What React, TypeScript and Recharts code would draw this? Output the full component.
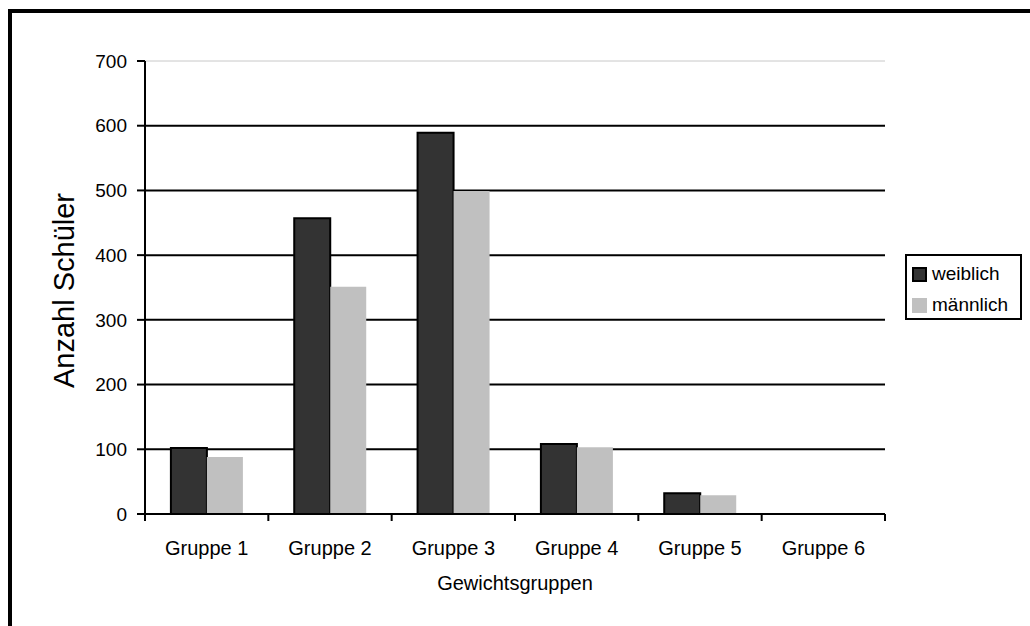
import React from "react";
import { BarChart, Bar, XAxis, YAxis, CartesianGrid, Legend } from "recharts";

const categories = ["Gruppe 1", "Gruppe 2", "Gruppe 3", "Gruppe 4", "Gruppe 5", "Gruppe 6"];
const weiblich = [102, 457, 589, 108, 32, 0];
const maennlich = [88, 351, 499, 103, 29, 1];
const yTicks = [0, 100, 200, 300, 400, 500, 600, 700];

const data = categories.map((c, i) => ({ name: c, weiblich: weiblich[i], maennlich: maennlich[i] }));

const FONT = "'Liberation Sans', Arial, Helvetica, sans-serif";
const W = 1030;
const H = 626;
const LEGEND_W = 117;
const M = { top: 61, right: 145 - LEGEND_W, bottom: 82, left: 45 };
const YW = 100;
const XH = 30;
const PLOT_W = W - M.left - YW - 145;
const BAND = PLOT_W / categories.length;

const XTick = (props: any) => {
  const { x, y, payload, index } = props;
  return (
    <g>
      <line x1={x - BAND / 2} x2={x - BAND / 2} y1={y} y2={y + 7} stroke="#000" strokeWidth={2} />
      {index === categories.length - 1 && (
        <line x1={x + BAND / 2} x2={x + BAND / 2} y1={y} y2={y + 7} stroke="#000" strokeWidth={2} />
      )}
      <text x={x} y={y + 41} textAnchor="middle" fontSize={20} fontFamily={FONT} fill="#000">
        {payload.value}
      </text>
    </g>
  );
};

const GridLine = (p: any) => (
  <line
    key={p.key}
    x1={p.x1}
    x2={p.x2}
    y1={p.y1}
    y2={p.y2}
    stroke={p.y1 <= M.top + 1 ? "#c8c8c8" : "#000"}
    strokeWidth={p.y1 <= M.top + 1 ? 1 : 2}
  />
);

const YLabel = (props: any) => {
  const vb = props.viewBox || {};
  const cx = vb.x + 19;
  const cy = vb.y + vb.height / 2 + 3;
  return (
    <text
      x={cx}
      y={cy}
      transform={`rotate(-90 ${cx} ${cy})`}
      textAnchor="middle"
      dominantBaseline="central"
      fontSize={29}
      fontFamily={FONT}
      fill="#000"
    >
      Anzahl Schüler
    </text>
  );
};

const LegendContent = () => (
  <div style={{ fontFamily: FONT, fontSize: 19, color: "#000", position: "relative", width: "100%", height: "100%" }}>
    {[
      { label: "weiblich", fill: "#333333", border: "2px solid #000" },
      { label: "männlich", fill: "#c0c0c0", border: "2px solid #c0c0c0" },
    ].map((it, i) => (
      <div key={it.label} style={{ position: "absolute", left: 5, top: 10 + i * 31, display: "flex", alignItems: "center", lineHeight: "16px" }}>
        <span style={{ display: "inline-block", width: 11, height: 11, background: it.fill, border: it.border, marginRight: 5 }} />
        <span>{it.label}</span>
      </div>
    ))}
  </div>
);

export default function App() {
  return (
    <div style={{ position: "fixed", left: 0, top: 0, width: W, height: H, overflow: "hidden", background: "#fff" }}>
      <div
        style={{
          position: "absolute",
          left: 8,
          top: 9,
          width: 1100,
          height: 700,
          borderLeft: "4px solid #000",
          borderTop: "4px solid #000",
          boxSizing: "border-box",
        }}
      />
      <div style={{ position: "absolute", left: 0, top: 0 }}>
        <BarChart width={W} height={H} data={data} margin={M} barCategoryGap="21%" barGap={0}>
          <CartesianGrid vertical={false} horizontal={GridLine as any} />
          <XAxis
            dataKey="name"
            height={XH}
            axisLine={{ stroke: "#000", strokeWidth: 2 }}
            tickLine={false}
            tickSize={0}
            tickMargin={0}
            interval={0}
            tick={<XTick />}
            label={{ value: "Gewichtsgruppen", position: "bottom", offset: 32, fontSize: 20, fontFamily: FONT, fill: "#000" }}
          />
          <YAxis
            width={YW}
            domain={[0, 700]}
            ticks={yTicks}
            interval={0}
            axisLine={{ stroke: "#000", strokeWidth: 2 }}
            tickLine={{ stroke: "#000", strokeWidth: 2 }}
            tickSize={8}
            tickMargin={10}
            tick={{ fontSize: 19, fontFamily: FONT, fill: "#000" }}
            label={<YLabel />}
          />
          <Legend
            layout="horizontal"
            verticalAlign="middle"
            align="right"
            content={<LegendContent />}
            wrapperStyle={{
              position: "absolute",
              left: 905,
              top: 254,
              width: LEGEND_W,
              height: 66,
              border: "2px solid #000",
              boxSizing: "border-box",
              background: "#fff",
            }}
          />
          <Bar dataKey="weiblich" name="weiblich" fill="#333333" stroke="#000" strokeWidth={2} isAnimationActive={false} />
          <Bar dataKey="maennlich" name="männlich" fill="#c0c0c0" isAnimationActive={false} />
        </BarChart>
      </div>
    </div>
  );
}
